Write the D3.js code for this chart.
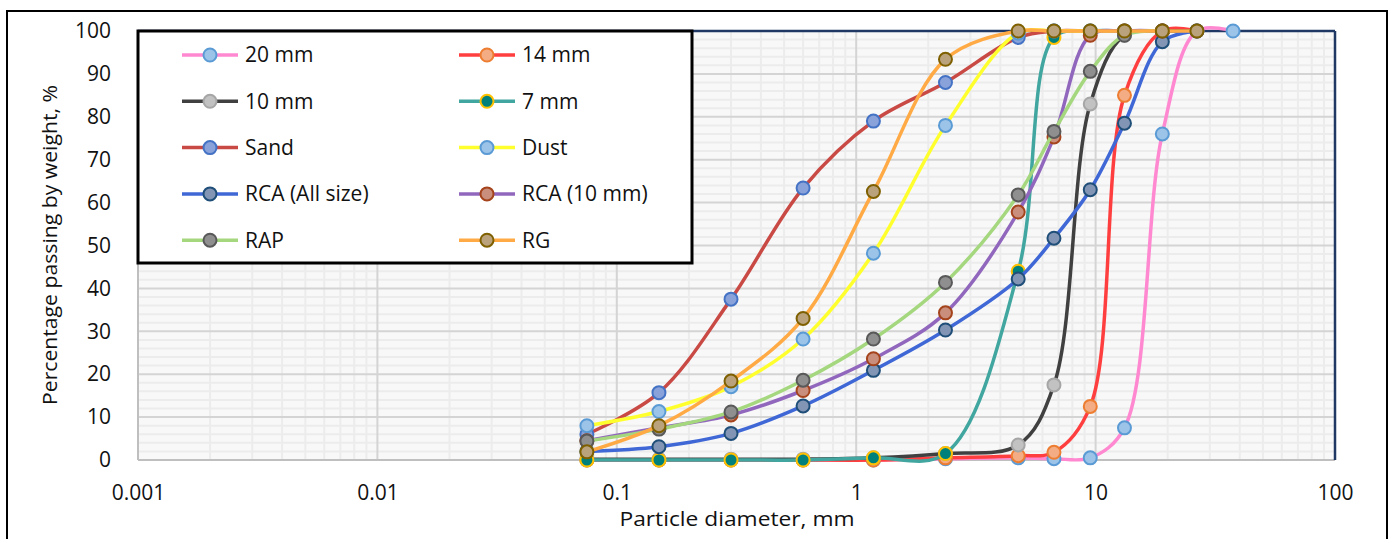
<!DOCTYPE html>
<html>
<head>
<meta charset="utf-8">
<script src="https://cdn.jsdelivr.net/npm/d3@7"></script>
<style>
  body { margin: 0; background: #fff; }
  text { font-family: "Open Sans", Lato, sans-serif; fill: #111; }
</style>
</head>
<body>
<svg id="chart"></svg>
<script>
// sieve sizes (mm) and % passing per material
const sieve = [0.075, 0.15, 0.3, 0.6, 1.18, 2.36, 4.75, 6.7, 9.5, 13.2, 19, 26.5, 37.5];
const mm20   = [0, 0, 0, 0, 0, 0.3, 0.5, 0.3, 0.5, 7.5, 76, 100, 100];
const mm14   = [0, 0, 0, 0, 0, 0.5, 1, 1.8, 12.5, 85, 100, 100, null];
const mm10   = [0.2, 0.2, 0.2, 0.2, 0.5, 1.5, 3.5, 17.5, 83, 99, 100, 100, null];
const mm7    = [0, 0, 0, 0, 0.5, 1.5, 44, 98.5, 100, 100, 100, null, null];
const sand   = [6, 15.7, 37.5, 63.4, 79, 88, 98.5, 100, 100, 100, 100, null, null];
const dust   = [8, 11.3, 17.1, 28.2, 48.2, 78, 99.5, 100, 100, 100, null, null, null];
const rcaAll = [2, 3.1, 6.2, 12.6, 20.9, 30.3, 42.2, 51.7, 63, 78.5, 97.5, 100, null];
const rca10  = [4.5, 7.5, 10.5, 16.2, 23.6, 34.3, 57.8, 75.3, 99, 100, 100, null, null];
const rap    = [4.4, 7.2, 11.2, 18.6, 28.2, 41.4, 61.8, 76.6, 90.6, 99, 100, null, null];
const rg     = [1.9, 8, 18.4, 33, 62.6, 93.4, 100, 100, 100, 100, 100, 100, null];

const names = ["20 mm", "14 mm", "10 mm", "7 mm", "Sand", "Dust", "RCA (All size)", "RCA (10 mm)", "RAP", "RG"];
const values = [mm20, mm14, mm10, mm7, sand, dust, rcaAll, rca10, rap, rg];
const lineColors = ["#ff88d0", "#ff3f3f", "#404040", "#40a69f", "#c94a45", "#ffff2e", "#3f68d6", "#9167bd", "#a4d77e", "#ffaa45"];
const markFill   = ["#9cc3e8", "#f4ac84", "#c2c2c2", "#00807a", "#8aa2da", "#9cc3e8", "#8295b4", "#c98f7c", "#8f8f8f", "#b9a27c"];
const markStroke = ["#5b9bd5", "#ed7d31", "#a6a6a6", "#ffc000", "#4472c4", "#5b9bd5", "#1f4e79", "#a5441c", "#595959", "#7f6000"];

const xTicks = [0.001, 0.01, 0.1, 1, 10, 100];
const yTicks = [0, 10, 20, 30, 40, 50, 60, 70, 80, 90, 100];

const W = 1392, H = 539;
const pL = 138, pR = 1335, pT = 31, pB = 460;

const svg = d3.select("#chart").attr("width", W).attr("height", H);

// outer frame
svg.append("rect").attr("x", 7).attr("y", 11).attr("width", 1380).attr("height", 560)
  .attr("fill", "none").attr("stroke", "#000").attr("stroke-width", 2);

const x = d3.scaleLog().domain([0.001, 100]).range([pL, pR]);
const y = d3.scaleLinear().domain([0, 100]).range([pB, pT]);

// plot background
svg.append("rect").attr("x", pL).attr("y", pT).attr("width", pR - pL).attr("height", pB - pT)
  .attr("fill", "#f8f8f8");

// minor grid
const minorX = [];
for (let e = -3; e < 2; e++) for (let k = 2; k <= 9; k++) minorX.push(k * Math.pow(10, e));
const minorY = d3.range(2, 100, 2).filter(v => v % 10 !== 0);
const grid = svg.append("g");
grid.selectAll(".mx").data(minorX).join("line")
  .attr("x1", d => x(d)).attr("x2", d => x(d)).attr("y1", pT).attr("y2", pB)
  .attr("stroke", "#ececec").attr("stroke-width", 2);
grid.selectAll(".my").data(minorY).join("line")
  .attr("x1", pL).attr("x2", pR).attr("y1", d => y(d)).attr("y2", d => y(d))
  .attr("stroke", "#ececec").attr("stroke-width", 2);
grid.selectAll(".gx").data(xTicks.slice(1, -1)).join("line")
  .attr("x1", d => x(d)).attr("x2", d => x(d)).attr("y1", pT).attr("y2", pB)
  .attr("stroke", "#d4d4d4").attr("stroke-width", 2);
grid.selectAll(".gy").data(yTicks.slice(1, -1)).join("line")
  .attr("x1", pL).attr("x2", pR).attr("y1", d => y(d)).attr("y2", d => y(d))
  .attr("stroke", "#d4d4d4").attr("stroke-width", 2);

// axis lines
svg.append("line").attr("x1", pL).attr("x2", pR).attr("y1", pB).attr("y2", pB)
  .attr("stroke", "#bfbfbf").attr("stroke-width", 2);
svg.append("line").attr("x1", pL).attr("x2", pL).attr("y1", pT).attr("y2", pB)
  .attr("stroke", "#bfbfbf").attr("stroke-width", 2);
svg.append("line").attr("x1", pL).attr("x2", pR).attr("y1", pT).attr("y2", pT)
  .attr("stroke", "#1f3864").attr("stroke-width", 2.5);
svg.append("line").attr("x1", pR).attr("x2", pR).attr("y1", pT).attr("y2", pB)
  .attr("stroke", "#1f3864").attr("stroke-width", 2.5);

// axes labels
const xAxis = svg.append("g").attr("transform", `translate(0,${pB + 22})`)
  .call(d3.axisBottom(x).tickValues(xTicks).tickFormat(d => String(d)).tickSize(0));
xAxis.select(".domain").remove();
xAxis.selectAll("text").style("font-size", "21px").attr("fill", "#111");

const yAxis = svg.append("g").attr("transform", `translate(${pL - 24},0)`)
  .call(d3.axisLeft(y).tickValues(yTicks).tickSize(0));
yAxis.select(".domain").remove();
yAxis.selectAll("text").style("font-size", "21px").attr("fill", "#111");

svg.append("text").attr("x", 737).attr("y", 526).attr("text-anchor", "middle")
  .attr("textLength", 235).attr("lengthAdjust", "spacingAndGlyphs")
  .style("font-size", "20px").text("Particle diameter, mm");
svg.append("text").attr("transform", "translate(57,245) rotate(-90)").attr("text-anchor", "middle")
  .attr("textLength", 320).attr("lengthAdjust", "spacingAndGlyphs")
  .style("font-size", "20px").text("Percentage passing by weight, %");

// series
const line = d3.line()
  .x(d => x(d[0])).y(d => y(d[1]))
  .curve(d3.curveCatmullRom.alpha(0.5));

values.forEach((vals, i) => {
  const pts = sieve.map((s, j) => [s, vals[j]]).filter(d => d[1] != null);
  const g = svg.append("g");
  g.append("path").datum(pts).attr("d", line)
    .attr("fill", "none").attr("stroke", lineColors[i]).attr("stroke-width", 3.5);
  g.selectAll("circle").data(pts).join("circle")
    .attr("cx", d => x(d[0])).attr("cy", d => y(d[1])).attr("r", 6.5)
    .attr("fill", markFill[i]).attr("stroke", markStroke[i]).attr("stroke-width", 2);
});

// legend
const lg = svg.append("g");
lg.append("rect").attr("x", 138).attr("y", 31).attr("width", 554).attr("height", 232)
  .attr("fill", "#fff").attr("stroke", "#000").attr("stroke-width", 3);
names.forEach((n, i) => {
  const col = i % 2, row = Math.floor(i / 2);
  const lx = col === 0 ? 182 : 459;
  const ly = 55 + row * 46.3;
  lg.append("line").attr("x1", lx).attr("x2", lx + 56).attr("y1", ly).attr("y2", ly)
    .attr("stroke", lineColors[i]).attr("stroke-width", 3.5);
  lg.append("circle").attr("cx", lx + 28).attr("cy", ly).attr("r", 6.5)
    .attr("fill", markFill[i]).attr("stroke", markStroke[i]).attr("stroke-width", 2);
  lg.append("text").attr("x", lx + 63).attr("y", ly).attr("dy", "0.35em")
    .style("font-size", "21px").text(n);
});
</script>
</body>
</html>
